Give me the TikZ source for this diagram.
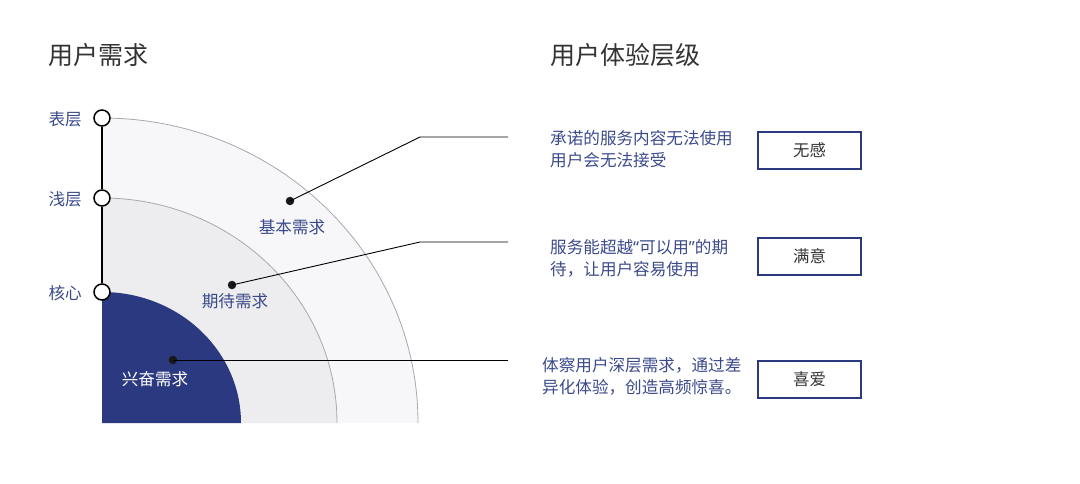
\documentclass[tikz,border=0pt]{standalone}
\usepackage{fontspec}
\setmainfont{Noto Sans CJK SC}
\newfontfamily\latinq{Noto Sans}
\definecolor{navy}{HTML}{2B3A80}
\definecolor{txtblue}{HTML}{3B4A8A}
\definecolor{titlec}{HTML}{333333}
\definecolor{ringout}{HTML}{F7F7F9}
\definecolor{ringmid}{HTML}{EDEDEF}
\definecolor{arcgrey}{HTML}{A8A8AE}
\begin{document}
\begin{tikzpicture}[x=1pt,y=1pt,
  body/.style={font=\fontsize{16.6}{22.5}\selectfont, text=txtblue, inner sep=0pt},
  title/.style={font=\fontsize{25}{29}\selectfont, text=titlec, inner sep=0pt, anchor=west},
  levelbox/.style={draw=navy, line width=1.4pt, minimum width=103pt, minimum height=37pt, inner sep=0pt, font=\fontsize{16.4}{20}\selectfont, text=titlec},
  axisdot/.style={circle, draw=black, fill=white, line width=1.5pt, minimum size=16pt, inner sep=0pt},
  ptdot/.style={circle, fill=black!90, minimum size=8.5pt, inner sep=0pt},
  leader/.style={draw=black, line width=0.9pt}]
\useasboundingbox (0,0) rectangle (1080,483);
% rings
\fill[ringout] (102,60) -- (418,60) arc[start angle=0,end angle=90,x radius=316,y radius=305] -- cycle;
\fill[ringmid] (102,60) -- (337,60) arc[start angle=0,end angle=90,x radius=235,y radius=225] -- cycle;
\fill[navy] (102,60) -- (241,60) arc[start angle=0,end angle=90,x radius=139,y radius=131] -- cycle;
\draw[arcgrey, line width=0.8pt] (418,60) arc[start angle=0,end angle=90,x radius=316,y radius=305];
\draw[arcgrey, line width=0.8pt] (337,60) arc[start angle=0,end angle=90,x radius=235,y radius=225];
% titles
\node[title] (t1) at (48,428) {用户需求};
\node[title] (t2) at (550,428) {用户体验层级};
% axis
\node[axisdot] (a1) at (102,365) {};
\node[axisdot] (a2) at (102,285) {};
\node[axisdot] (a3) at (102,191) {};
\draw[line width=1.5pt] (a1) -- (a2) -- (a3);
\node[body, anchor=east] (l1) at (82,364) {表层};
\node[body, anchor=east] (l2) at (82,284) {浅层};
\node[body, anchor=east] (l3) at (82,190) {核心};
% ring labels
\node[body] (r1) at (292,256) {基本需求};
\node[body] (r2) at (235,182) {期待需求};
\node[body, text=white] (r3) at (155,104) {兴奋需求};
% dots
\node[ptdot] (d1) at (290,282) {};
\node[ptdot] (d2) at (232,198) {};
\node[ptdot] (d3) at (173,123) {};
\coordinate (e1) at (420,346);
\coordinate (e2) at (420,241);
\coordinate (f1) at (508,346);
\coordinate (f2) at (508,241);
\coordinate (f3) at (508,123);
\draw[leader] (d1.center) -- (e1) -- (f1);
\draw[leader] (d2.center) -- (e2) -- (f2);
\draw[leader] (d3.center) -- (f3);
% right texts
\node[body, anchor=west, align=left] (b1) at (550,334) {承诺的服务内容无法使用\\用户会无法接受};
\node[body, anchor=west, align=left] (b2) at (550,224.5) {服务能超越{\latinq “}可以用{\latinq ”}的期\\待，让用户容易使用};
\node[body, anchor=west, align=left] (b3) at (542,106.5) {体察用户深层需求，通过差\\异化体验，创造高频惊喜。};
% boxes
\node[levelbox] (x1) at (809.5,332.5) {无感};
\node[levelbox] (x2) at (809.5,226.5) {满意};
\node[levelbox] (x3) at (809.5,103.5) {喜爱};
\end{tikzpicture}
\end{document}
